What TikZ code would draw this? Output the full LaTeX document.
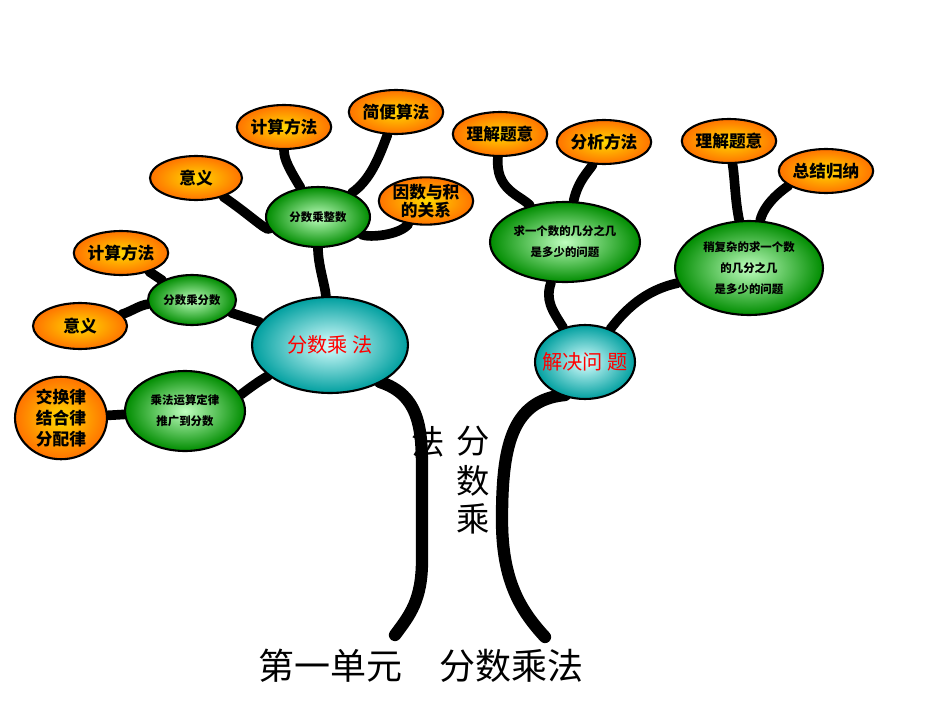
\documentclass[tikz,border=0pt]{standalone}
\usepackage{fontspec}
\setmainfont{Noto Sans CJK SC}
\usetikzlibrary{shapes.geometric}
\pgfdeclarelayer{bg}\pgfsetlayers{bg,main}
\tikzset{
  sz/.style args={#1/#2}{minimum width=#1*0.04cm, minimum height=#2*0.04cm},
  bub/.style={ellipse, draw=black, line width=1.2pt, inner sep=0pt, align=center},
  leaf/.style={bub, inner color=yellow!70!orange, outer color=orange!90!red, font=\fontsize{9.5}{11}\selectfont\bfseries},
  mid/.style={bub, inner color=green!25!white, outer color=green!55!black, font=\fontsize{6.5}{12}\selectfont\bfseries},
  hub/.style={bub, inner color=white!85!cyan, outer color=teal!75!cyan, text=red, font=\fontsize{11.5}{12}\selectfont},
  vch/.style={font=\fontsize{19}{21}\selectfont},
  br/.style={line width=5.5pt, line cap=round},
  tr/.style={line width=7pt, line cap=round}
}
\begin{document}
\begin{tikzpicture}[x=0.02cm,y=-0.02cm]
\useasboundingbox (0,0) rectangle (950,713);
\node[hub, sz=78/48] (m) at (330,345) {分数乘\ 法};
\node[hub, sz=50/37, inner sep=-8pt] (j) at (585,362) {解决问\ 题};
\node[mid, sz=52/30] (zs) at (318,217) {分数乘整数};
\node[mid, sz=44/25] (fs) at (192,300) {分数乘分数};
\node[mid, sz=60/40] (yl) at (185,411) {乘法运算定律\\推广到分数};
\node[mid, sz=75/40] (q1) at (565,242) {求一个数的几分之几\\是多少的问题};
\node[mid, sz=74/47] (q2) at (749,268) {稍复杂的求一个数\\的几分之几\\是多少的问题};
\node[leaf, sz=46/22] (a1) at (196,178) {意义};
\node[leaf, sz=47/22] (a2) at (284,127) {计算方法};
\node[leaf, sz=47/22] (a3) at (396,112) {简便算法};
\node[leaf, sz=47/22, font=\fontsize{9.5}{10}\selectfont\bfseries] (a4) at (426,201) {因数与积\\的关系};
\node[leaf, sz=47/22] (b1) at (121,253) {计算方法};
\node[leaf, sz=47/23] (b2) at (80,326) {意义};
\node[leaf, sz=46/35, font=\fontsize{9.5}{12}\selectfont\bfseries] (c1) at (61,418) {交换律\\结合律\\分配律};
\node[leaf, sz=47/22] (d1) at (500,134) {理解题意};
\node[leaf, sz=47/22] (d2) at (604,142) {分析方法};
\node[leaf, sz=47/22] (e1) at (729,141) {理解题意};
\node[leaf, sz=47/22] (e2) at (826,171) {总结归纳};
\coordinate (tl) at (395,635);
\coordinate (trr) at (545,637);
\coordinate (ms) at (380,382);
\coordinate (js) at (565,395);
\node[font=\fontsize{20.5}{22}\selectfont] (ttl) at (421,666) {第一单元\quad 分数乘法};
\node[vch, inner sep=0pt] (v1) at (473,441) {分};
\node[vch, inner sep=0pt] (v2) at (473,481) {数};
\node[vch, inner sep=0pt] (v3) at (473,519) {乘};
\node[vch, inner sep=0pt] (vf) at (428,442) {法};
\begin{pgfonlayer}{bg}
\draw[tr] (ms) .. controls (420,395) and (422,430) .. (422,470) -- (422,560) .. controls (422,600) and (410,615) .. (tl);
\draw[tr] (js) .. controls (510,400) and (502,450) .. (502,520) .. controls (502,580) and (520,610) .. (trr);
\draw[br] (m) .. controls (325,285) and (318,265) .. (zs);
\draw[br] (m) -- (fs);
\draw[br] (m) .. controls (260,380) and (240,395) .. (yl);
\draw[br] (zs) .. controls (265,230) and (250,215) .. (a1);
\draw[br] (zs) .. controls (290,170) and (284,160) .. (a2);
\draw[br] (zs) .. controls (370,180) and (378,160) .. (a3);
\draw[br] (zs) .. controls (370,238) and (400,235) .. (a4);
\draw[br] (fs) -- (b1);
\draw[br] (fs) .. controls (140,305) and (130,312) .. (b2);
\draw[br] (yl) -- (c1);
\draw[br] (j) .. controls (552,310) and (545,300) .. (q1);
\draw[br] (j) .. controls (625,310) and (645,290) .. (q2);
\draw[br] (q1) .. controls (520,195) and (495,190) .. (d1);
\draw[br] (q1) .. controls (578,180) and (590,170) .. (d2);
\draw[br] (q2) .. controls (735,200) and (735,180) .. (e1);
\draw[br] (q2) .. controls (765,200) and (790,185) .. (e2);
\end{pgfonlayer}
\end{tikzpicture}
\end{document}
